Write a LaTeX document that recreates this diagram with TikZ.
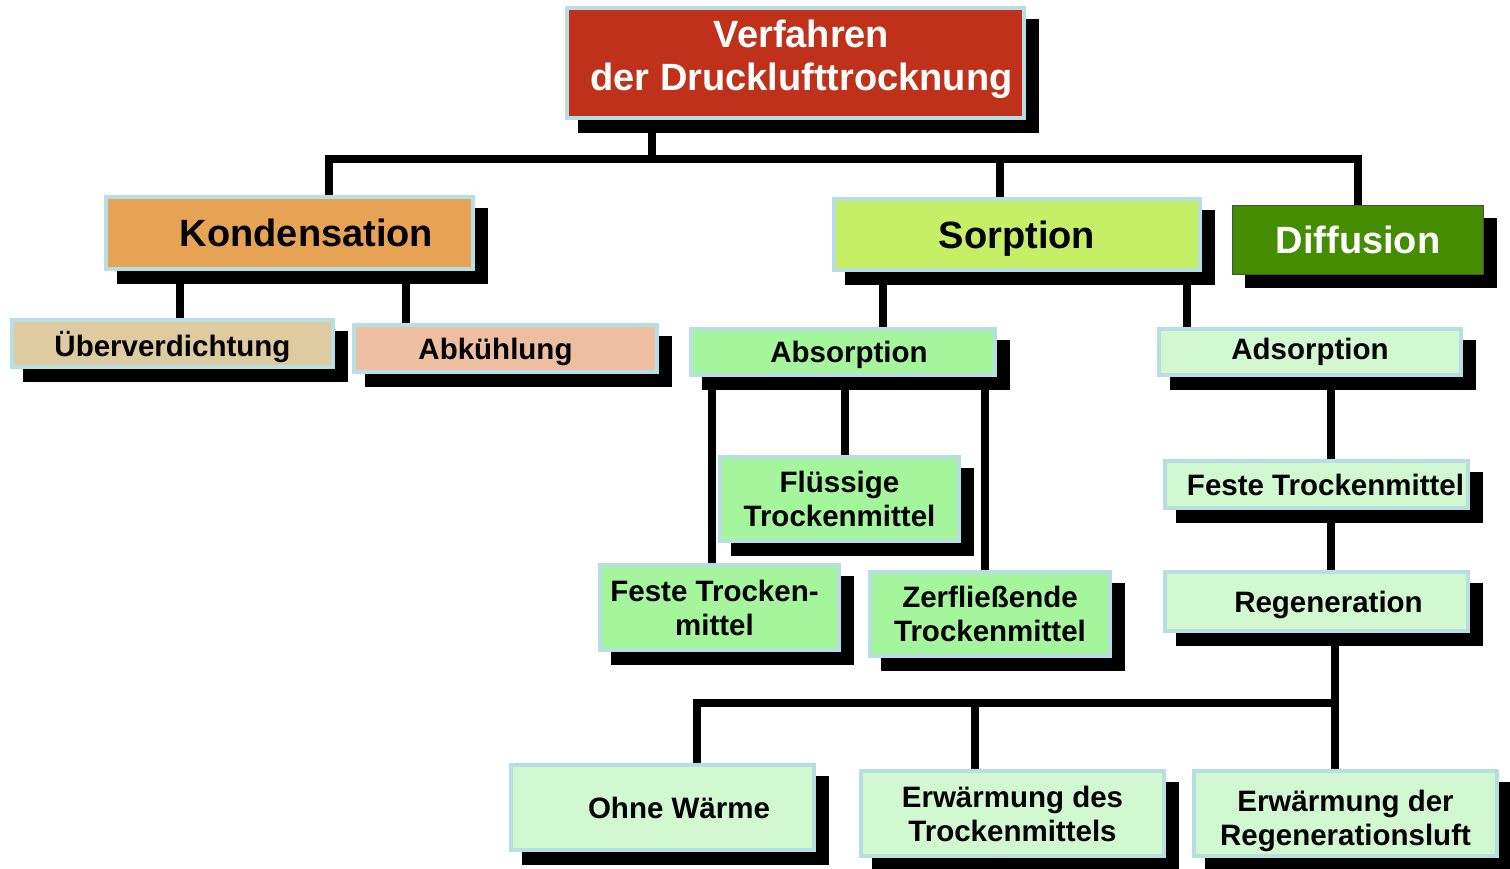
\documentclass[tikz,border=0pt]{standalone}
\usepackage{fontspec}
\setmainfont{Liberation Sans}
\usetikzlibrary{shadows,backgrounds}
\definecolor{rahmen}{RGB}{183,222,227}
\definecolor{titelrot}{RGB}{191,49,26}
\definecolor{kondorange}{RGB}{230,163,83}
\definecolor{ueberbeige}{RGB}{223,203,161}
\definecolor{abklachs}{RGB}{237,190,160}
\definecolor{sorpgelb}{RGB}{196,239,102}
\definecolor{diffgruen}{RGB}{68,140,0}
\definecolor{absgruen}{RGB}{164,245,156}
\definecolor{adsgruen}{RGB}{210,248,210}

\begin{document}
\begin{tikzpicture}[x=1pt,y=-1pt,
    kasten/.style={draw=rahmen,line width=4pt,outer sep=0pt,inner sep=0pt,align=center,
      font=\bfseries\fontsize{29.5}{34}\selectfont,
      drop shadow={shadow xshift=13pt,shadow yshift=-13pt,fill=black,draw=black,opacity=1}},
    gross/.style={font=\bfseries\fontsize{38}{43}\selectfont},
    linie/.style={line width=8pt,black,line join=miter}]
    \useasboundingbox (0,0) rectangle (1510,869);
    % obere Ebene
    \node[kasten,gross,fill=titelrot,text=white,text depth=16pt,minimum width=457pt,minimum height=110pt] (verf) at (795.5,63) {\hspace*{12pt}Verfahren\\\hspace*{12pt}der Drucklufttrocknung};
    \node[kasten,gross,fill=kondorange,minimum width=367pt,minimum height=72pt] (kond) at (289.5,233) {\hspace*{34pt}Kondensation};
    \node[kasten,gross,fill=sorpgelb,text depth=0pt,minimum width=366pt,minimum height=71pt] (sorp) at (1017,234.5) {Sorption};
    \node[kasten,gross,fill=diffgruen,text=white,draw=gray!60!black,line width=1.5pt,minimum width=251pt,minimum height=69pt] (diff) at (1358,240) {Diffusion};
    % Kondensation
    \node[kasten,fill=ueberbeige,text depth=0pt,minimum width=321pt,minimum height=47pt] (ueber) at (172.5,343.5) {\"Uberverdichtung};
    \node[kasten,fill=abklachs,text depth=0pt,minimum width=303pt,minimum height=47pt] (abk) at (505.5,348.5) {Abk\"uhlung\hspace*{20pt}};
    % Sorption
    \node[kasten,fill=absgruen,text depth=0pt,minimum width=304pt,minimum height=46pt] (absorp) at (843,352) {\hspace*{12pt}Absorption};
    \node[kasten,fill=adsgruen,minimum width=302pt,minimum height=46pt] (adsorp) at (1310,352) {Adsorption};
    \node[kasten,fill=absgruen,minimum width=239pt,minimum height=84pt] (fluess) at (839.5,499) {Fl\"ussige\\Trockenmittel};
    \node[kasten,fill=absgruen,text depth=0pt,minimum width=239pt,minimum height=85pt] (festeA) at (719.5,607.5) {Feste Trocken-\hspace*{10pt}\\mittel\hspace*{10pt}};
    \node[kasten,fill=absgruen,minimum width=240pt,minimum height=84pt] (zerfl) at (990,614) {Zerflie\ss ende\\Trockenmittel};
    \node[kasten,fill=adsgruen,minimum width=303pt,minimum height=47pt] (festeB) at (1316.5,484.5) {\hspace*{18pt}Feste Trockenmittel};
    \node[kasten,fill=adsgruen,text depth=0pt,minimum width=303pt,minimum height=59pt] (regen) at (1316.5,601.5) {\hspace*{24pt}Regeneration};
    % Regeneration
    \node[kasten,fill=adsgruen,minimum width=303pt,minimum height=85pt] (ohne) at (662.5,807.5) {\hspace*{33pt}Ohne W\"arme};
    \node[kasten,fill=adsgruen,minimum width=303pt,minimum height=85pt] (erwA) at (1012.5,813.5) {Erw\"armung des\\Trockenmittels};
    \node[kasten,fill=adsgruen,text depth=0pt,minimum width=303pt,minimum height=85pt] (erwB) at (1345.5,813.5) {\rule{0pt}{30pt}Erw\"armung der\\Regenerationsluft};

    \begin{scope}[on background layer]
    \coordinate (b0) at (652,159.5);
    \coordinate (b1) at (1335,703);
    \draw[linie] (verf.south -| b0) -- (b0);
    \draw[linie] (b0) -| ([xshift=39.5pt]kond.north);
    \draw[linie] (b0) -| ([xshift=-17pt]sorp.north);
    \draw[linie] (b0) -| (diff.north);
    \draw[linie] ([xshift=7.5pt]ueber.north) -- ([xshift=7.5pt]ueber.north |- kond.south);
    \draw[linie] ([xshift=-99.5pt]abk.north) -- ([xshift=-99.5pt]abk.north |- kond.south);
    \draw[linie] ([xshift=40pt]absorp.north) -- ([xshift=40pt]absorp.north |- sorp.south);
    \draw[linie] ([xshift=-123pt]adsorp.north) -- ([xshift=-123pt]adsorp.north |- sorp.south);
    \draw[linie] ([xshift=-7.5pt]festeA.north) -- ([xshift=-7.5pt]festeA.north |- absorp.south);
    \draw[linie] ([xshift=5.5pt]fluess.north) -- ([xshift=5.5pt]fluess.north |- absorp.south);
    \draw[linie] ([xshift=-5pt]zerfl.north) -- ([xshift=-5pt]zerfl.north |- absorp.south);
    \draw[linie] ([xshift=14.5pt]festeB.north) -- ([xshift=14.5pt]festeB.north |- adsorp.south);
    \draw[linie] ([xshift=14.5pt]regen.north) -- ([xshift=14.5pt]regen.north |- festeB.south);
    \draw[linie] (regen.south -| b1) -- (b1);
    \draw[linie] (b1) -| ([xshift=34pt]ohne.north);
    \draw[linie] (b1) -| ([xshift=-38pt]erwA.north);
    \draw[linie] (b1) -- ([xshift=-10.5pt]erwB.north);
    \end{scope}
\end{tikzpicture}
\end{document}
